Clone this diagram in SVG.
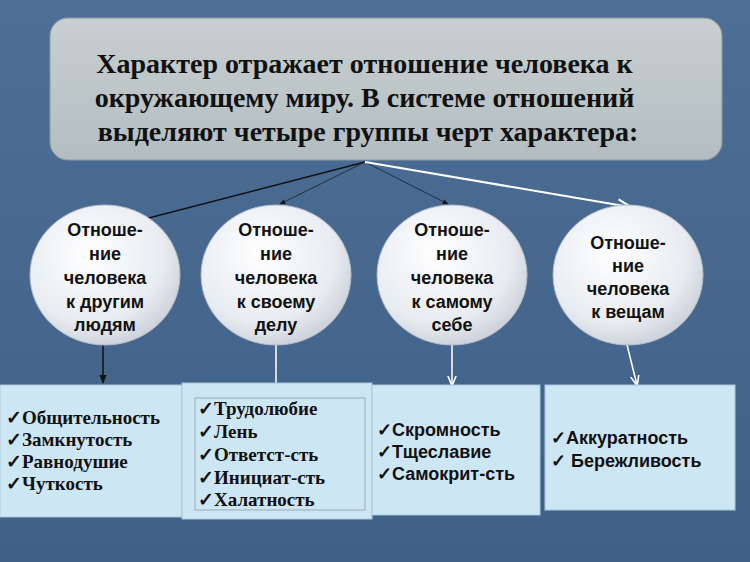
<svg xmlns="http://www.w3.org/2000/svg" width="750" height="562" viewBox="0 0 750 562">
<defs>
<linearGradient id="bg" x1="0" y1="0" x2="0" y2="1"><stop offset="0" stop-color="#4d6f95"/><stop offset="1" stop-color="#3f6188"/></linearGradient>
<linearGradient id="tg" x1="0" y1="0" x2="0" y2="1"><stop offset="0" stop-color="#c8cfd0"/><stop offset="1" stop-color="#b3bdc0"/></linearGradient>
<radialGradient id="eg" cx="0.4" cy="0.35" r="0.7"><stop offset="0" stop-color="#ffffff"/><stop offset="0.7" stop-color="#e8ebf0"/><stop offset="1" stop-color="#c9ced8"/></radialGradient>
<marker id="ab" viewBox="0 0 10 10" refX="9" refY="5" markerWidth="6" markerHeight="6" orient="auto"><path d="M0,1 L10,5 L0,9 z" fill="#111"/></marker>
<marker id="aw" viewBox="0 0 10 10" refX="9" refY="5" markerWidth="7" markerHeight="7" orient="auto"><path d="M0,1 L10,5 L0,9" fill="none" stroke="#fff" stroke-width="1.5"/></marker>
</defs>
<style>
.ell{fill:url(#eg);stroke:#b5bcc8;stroke-width:1}
.et{font-family:"Liberation Sans",Arial,sans-serif;font-weight:bold;font-size:18px;fill:#111;text-anchor:middle}
.bx{fill:#cde6f4;stroke:#a9c6da;stroke-width:1}
.st{font-family:"Liberation Serif",serif;font-weight:bold;font-size:19px;fill:#111}
.ss{font-family:"Liberation Sans",Arial,sans-serif;font-weight:bold;font-size:18px;fill:#111}
</style>
<rect width="750" height="562" fill="url(#bg)"/>
<g id="title">
<rect x="50" y="18" width="672" height="142" rx="18" fill="url(#tg)" stroke="#8e9a9e"/>
<text font-family="Liberation Serif,serif" font-weight="bold" font-size="28" fill="#111" text-anchor="middle">
<tspan x="368" y="73">Характер отражает отношение человека к</tspan>
<tspan x="368" y="107">окружающему миру. В системе отношений</tspan>
<tspan x="368" y="141">выделяют четыре группы черт характера:</tspan></text>
</g>
<g id="connectors">
<line x1="365" y1="162" x2="110" y2="228" stroke="#111" stroke-width="1.5" marker-end="url(#ab)"/>
<line x1="365" y1="162" x2="280" y2="204" stroke="#1d2d40" stroke-width="1" marker-end="url(#ab)"/>
<line x1="365" y1="162" x2="448" y2="204" stroke="#1d2d40" stroke-width="1" marker-end="url(#ab)"/>
<line x1="365" y1="162" x2="630" y2="207" stroke="#fff" stroke-width="2" marker-end="url(#aw)"/>
<line x1="103" y1="345" x2="103" y2="383" stroke="#111" stroke-width="1.5" marker-end="url(#ab)"/>
<line x1="276" y1="345" x2="276" y2="400" stroke="#fff" stroke-width="1.5" marker-end="url(#aw)"/>
<line x1="452" y1="345" x2="452" y2="385" stroke="#fff" stroke-width="1.5" marker-end="url(#aw)"/>
<line x1="627" y1="345" x2="637" y2="385" stroke="#fff" stroke-width="1.5" marker-end="url(#aw)"/>
</g>
<g id="e1"><ellipse class="ell" cx="105" cy="275" rx="75" ry="70"/>
<text class="et"><tspan x="105" y="236">Отноше-</tspan><tspan x="105" y="260">ние</tspan><tspan x="105" y="284">человека</tspan><tspan x="105" y="308">к другим</tspan><tspan x="105" y="331">людям</tspan></text></g>
<g id="e2"><ellipse class="ell" cx="276" cy="275" rx="75" ry="70"/>
<text class="et"><tspan x="276" y="236">Отноше-</tspan><tspan x="276" y="260">ние</tspan><tspan x="276" y="284">человека</tspan><tspan x="276" y="308">к своему</tspan><tspan x="276" y="331">делу</tspan></text></g>
<g id="e3"><ellipse class="ell" cx="452" cy="275" rx="75" ry="70"/>
<text class="et"><tspan x="452" y="236">Отноше-</tspan><tspan x="452" y="260">ние</tspan><tspan x="452" y="284">человека</tspan><tspan x="452" y="308">к самому</tspan><tspan x="452" y="331">себе</tspan></text></g>
<g id="e4"><ellipse class="ell" cx="628" cy="275" rx="75" ry="70"/>
<text class="et"><tspan x="628" y="249">Отноше-</tspan><tspan x="628" y="272">ние</tspan><tspan x="628" y="295">человека</tspan><tspan x="628" y="318">к вещам</tspan></text></g>
<g id="b1"><rect class="bx" x="0" y="385" width="182" height="132"/>
<text class="st"><tspan x="6" y="424">✓Общительность</tspan><tspan x="6" y="446">✓Замкнутость</tspan><tspan x="6" y="468">✓Равнодушие</tspan><tspan x="6" y="490">✓Чуткость</tspan></text></g>
<g id="b2"><rect class="bx" x="182" y="383" width="190" height="136"/>
<rect x="195" y="398" width="170" height="112" fill="#cde6f4" stroke="#9aa9b4"/>
<text class="st"><tspan x="198" y="415">✓Трудолюбие</tspan><tspan x="198" y="438">✓Лень</tspan><tspan x="198" y="461">✓Ответст-сть</tspan><tspan x="198" y="484">✓Инициат-сть</tspan><tspan x="198" y="506">✓Халатность</tspan></text></g>
<g id="b3"><rect class="bx" x="372" y="385" width="168" height="130"/>
<text class="ss"><tspan x="377" y="436">✓Скромность</tspan><tspan x="377" y="458">✓Тщеславие</tspan><tspan x="377" y="480">✓Самокрит-сть</tspan></text></g>
<g id="b4"><rect class="bx" x="545" y="385" width="190" height="125"/>
<text class="ss"><tspan x="551" y="444">✓Аккуратность</tspan><tspan x="551" y="467">✓ Бережливость</tspan></text></g>
</svg>
